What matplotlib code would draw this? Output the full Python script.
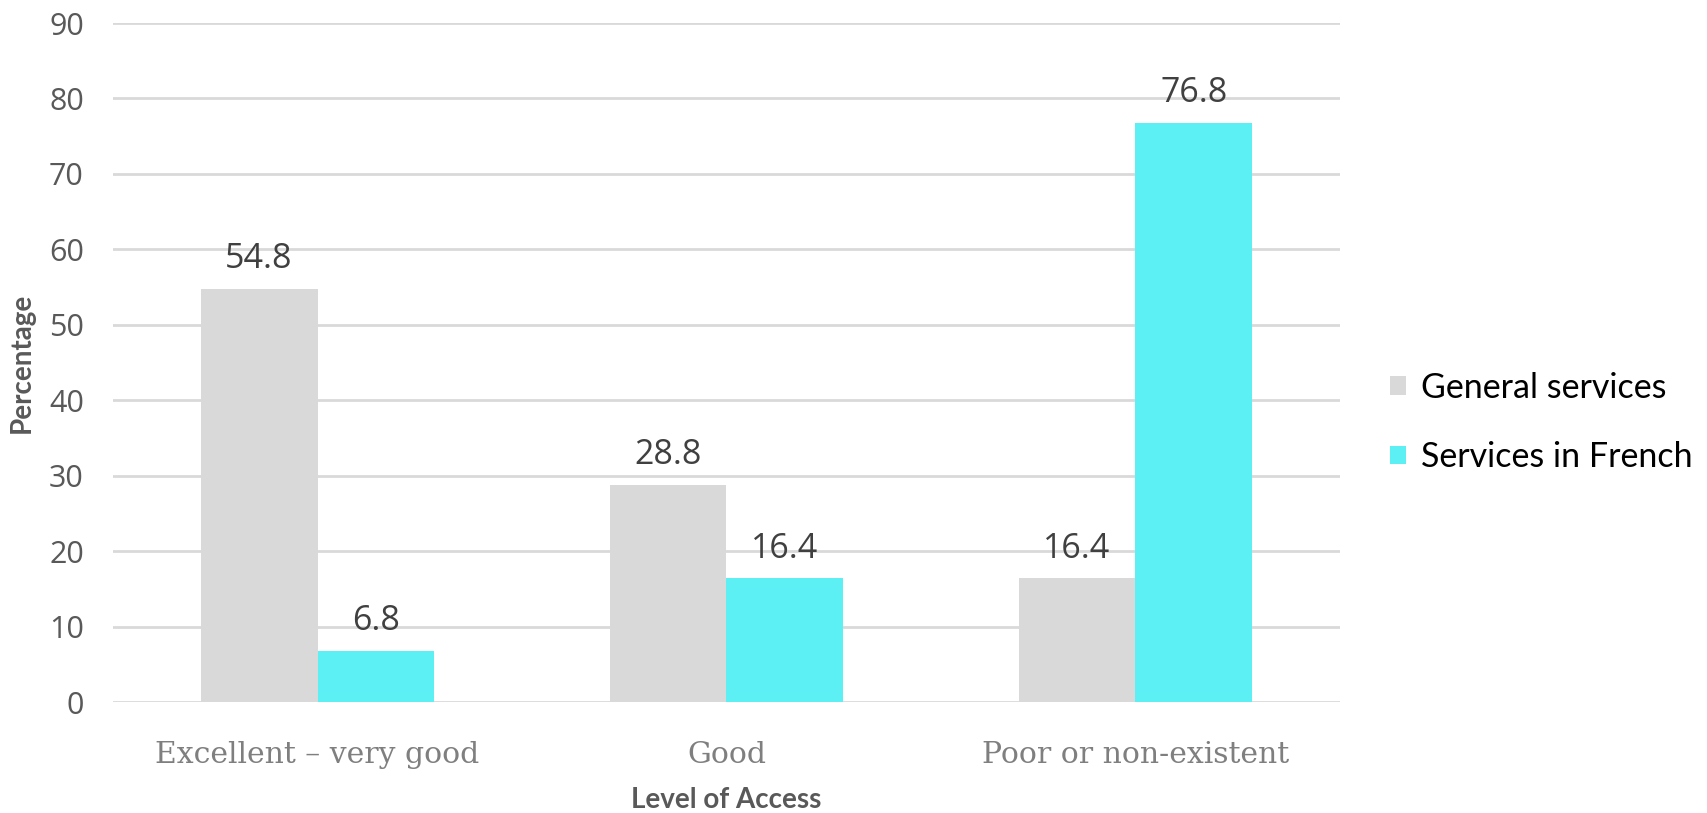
import matplotlib
matplotlib.use("Agg")
import matplotlib.pyplot as plt
import numpy as np

categories = ["Excellent – very good", "Good", "Poor or non-existent"]
general = [54.8, 28.8, 16.4]
french = [6.8, 16.4, 76.8]
series_names = ["General services", "Services in French"]
yticks = [0, 10, 20, 30, 40, 50, 60, 70, 80, 90]

fig = plt.figure(figsize=(17.07, 8.13), dpi=100)
ax = fig.add_axes([0.0662, 0.1365, 0.7188, 0.8352])

x = np.arange(len(categories))
w = 0.286
b1 = ax.bar(x - w/2, general, w, color="#d9d9d9", label=series_names[0], zorder=3)
b2 = ax.bar(x + w/2, french, w, color="#5cf0f5", label=series_names[1], zorder=3)

for bars in (b1, b2):
    ax.bar_label(bars, labels=[f"{v:.1f}" for v in bars.datavalues], padding=9,
                 fontsize=24.5, color="#404040", family="Open Sans")

ax.set_ylim(0, 90)
ax.set_xlim(-0.5, 2.5)
ax.set_yticks(yticks)
ax.set_yticklabels([str(t) for t in yticks], fontsize=22, color="#595959", family="Open Sans")
ax.set_xticks(x)
ax.set_xticklabels(categories, fontsize=21.5, color="#7f7f7f", family="DejaVu Serif")
ax.tick_params(axis="both", length=0)
ax.tick_params(axis="y", pad=21)
ax.tick_params(axis="x", pad=28)
ax.grid(axis="y", color="#d9d9d9", linewidth=2, zorder=0)
for s in ax.spines.values():
    s.set_visible(False)

ax.set_ylabel("Percentage", fontsize=20, fontweight="bold", color="#595959",
              family="Lato")
ax.yaxis.set_label_coords(-0.064, 0.5)
ax.set_xlabel("Level of Access", fontsize=20, fontweight="bold", color="#595959",
              family="Lato")
ax.xaxis.set_label_coords(0.5, -0.125)

leg = ax.legend(loc="center left", bbox_to_anchor=(1.016, 0.412), frameon=False,
                prop={"family": "Lato", "size": 24.5}, handlelength=0.47,
                handleheight=0.47, handletextpad=0.42, labelspacing=1.1)

fig.savefig("out.png", dpi=100)
